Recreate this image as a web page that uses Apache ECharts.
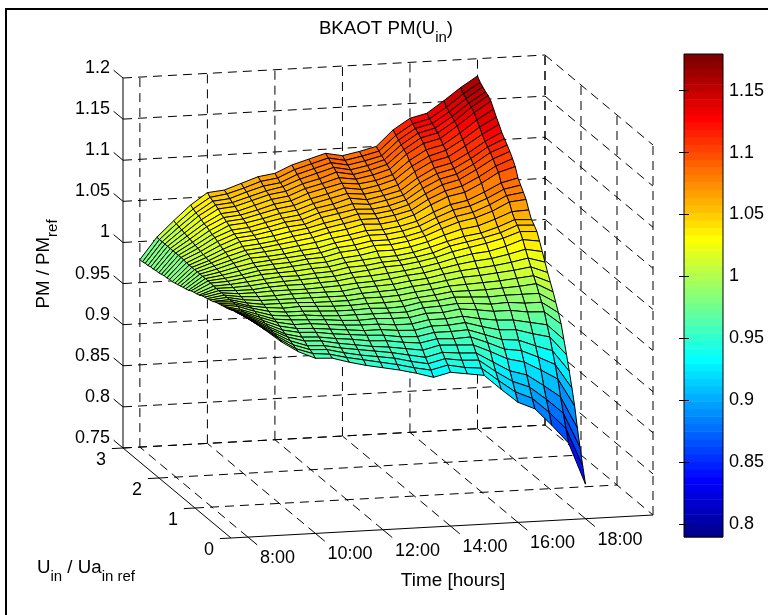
<!DOCTYPE html>
<html>
<head>
<meta charset="utf-8">
<title>BKAOT PM(Uin)</title>
<script src="https://cdn.jsdelivr.net/npm/echarts@6/dist/echarts.min.js"></script>
<style>
  body{margin:0;background:#fff;}
  #container{width:768px;height:615px;}
</style>
</head>
<body>
<div id="container"></div>
<script type="text/javascript">
// surface nodes, eye estimates: the four edges were read off the mesh, inner nodes are rougher
var uRatios = [0,0.075,0.15,0.225,0.3,0.375,0.45,0.525,0.6,0.675,0.75,0.825,0.9,0.975,1.05,1.125,1.2,1.275,1.35,1.425,1.5,1.575,1.65,1.725,1.8,1.875,1.95,2.025,2.1,2.175,2.25,2.325,2.4,2.475,2.55,2.625,2.7,2.775,2.85,2.925,3];
var timeHours = [8,8.5,9,9.5,10,10.5,11,11.5,12,12.5,13,13.5,14,14.5,15,15.5,16,16.5,17,17.5,18];
// one list per hour, values in uRatios order
var pm0800 = [1.016,1.015,1.014,1.013,1.012,1.011,1.010,1.008,1.007,1.006,1.005,1.004,1.003,1.001,1.000,0.999,0.998,0.997,0.995,0.994,0.993,0.992,0.990,0.989,0.988,0.987,0.986,0.985,0.984,0.984,0.983,0.983,0.982,0.981,0.981,0.980,0.980,0.979,0.979,0.978,0.978];
var pm0830 = [1.001,1.001,1.001,1.001,1.001,1.001,1.001,1.001,1.001,1.001,1.002,1.002,1.002,1.002,1.002,1.002,1.002,1.002,1.002,1.002,1.003,1.003,1.003,1.003,1.003,1.003,1.003,1.003,1.003,1.003,1.004,1.004,1.004,1.004,1.004,1.004,1.004,1.004,1.004,1.004,1.004];
var pm0900 = [0.985,0.986,0.987,0.988,0.989,0.990,0.991,0.992,0.993,0.994,0.995,0.996,0.996,0.997,0.998,0.999,1.000,1.001,1.002,1.003,1.004,1.005,1.006,1.007,1.008,1.009,1.010,1.010,1.011,1.012,1.013,1.014,1.015,1.016,1.017,1.018,1.019,1.020,1.021,1.022,1.023];
var pm0930 = [0.972,0.973,0.975,0.977,0.979,0.980,0.982,0.984,0.986,0.987,0.989,0.991,0.993,0.994,0.996,0.998,1.000,1.001,1.003,1.005,1.007,1.008,1.010,1.012,1.014,1.015,1.017,1.019,1.020,1.022,1.024,1.026,1.027,1.029,1.031,1.032,1.034,1.036,1.037,1.039,1.041];
var pm1000 = [0.963,0.966,0.968,0.970,0.973,0.975,0.978,0.980,0.982,0.985,0.987,0.989,0.991,0.994,0.996,0.998,1.001,1.003,1.005,1.007,1.010,1.012,1.014,1.016,1.019,1.021,1.023,1.025,1.028,1.030,1.032,1.034,1.037,1.039,1.041,1.043,1.046,1.048,1.050,1.052,1.055];
var pm1030 = [0.962,0.964,0.967,0.969,0.972,0.974,0.977,0.979,0.982,0.984,0.987,0.989,0.992,0.994,0.996,0.999,1.001,1.004,1.006,1.009,1.011,1.013,1.016,1.018,1.020,1.023,1.025,1.027,1.030,1.032,1.034,1.036,1.039,1.041,1.043,1.045,1.048,1.050,1.052,1.055,1.057];
var pm1100 = [0.956,0.959,0.962,0.965,0.968,0.971,0.974,0.977,0.980,0.983,0.985,0.988,0.991,0.993,0.996,0.999,1.001,1.004,1.007,1.009,1.012,1.015,1.017,1.020,1.022,1.025,1.028,1.030,1.033,1.036,1.038,1.041,1.043,1.046,1.048,1.051,1.054,1.056,1.059,1.061,1.064];
var pm1130 = [0.951,0.955,0.958,0.962,0.965,0.969,0.972,0.975,0.978,0.981,0.984,0.987,0.990,0.993,0.996,0.999,1.002,1.005,1.008,1.011,1.014,1.017,1.020,1.022,1.025,1.028,1.031,1.034,1.037,1.040,1.043,1.045,1.048,1.051,1.054,1.057,1.060,1.062,1.065,1.068,1.071];
var pm1200 = [0.947,0.951,0.955,0.959,0.962,0.966,0.970,0.973,0.977,0.980,0.984,0.987,0.990,0.993,0.996,0.999,1.003,1.006,1.009,1.012,1.015,1.018,1.021,1.024,1.027,1.031,1.034,1.037,1.040,1.042,1.045,1.048,1.051,1.054,1.057,1.060,1.063,1.066,1.068,1.071,1.074];
var pm1230 = [0.943,0.947,0.952,0.956,0.960,0.965,0.969,0.973,0.977,0.981,0.984,0.988,0.991,0.995,0.998,1.002,1.005,1.009,1.012,1.016,1.019,1.022,1.026,1.029,1.032,1.035,1.039,1.042,1.045,1.049,1.052,1.055,1.058,1.061,1.065,1.068,1.071,1.074,1.077,1.080,1.083];
var pm1300 = [0.938,0.942,0.947,0.952,0.957,0.962,0.966,0.971,0.975,0.980,0.984,0.987,0.991,0.995,0.999,1.003,1.006,1.010,1.014,1.017,1.021,1.024,1.028,1.031,1.035,1.038,1.042,1.046,1.049,1.053,1.056,1.059,1.063,1.066,1.070,1.073,1.076,1.080,1.083,1.086,1.089];
var pm1330 = [0.932,0.938,0.943,0.948,0.954,0.960,0.965,0.970,0.975,0.980,0.984,0.988,0.992,0.996,1.000,1.004,1.008,1.012,1.017,1.020,1.023,1.028,1.032,1.035,1.039,1.042,1.047,1.050,1.054,1.057,1.061,1.065,1.068,1.072,1.075,1.079,1.083,1.086,1.089,1.092,1.095];
var pm1400 = [0.937,0.943,0.948,0.953,0.959,0.964,0.969,0.974,0.979,0.984,0.988,0.992,0.995,0.999,1.003,1.007,1.011,1.014,1.018,1.021,1.024,1.028,1.032,1.035,1.039,1.042,1.046,1.050,1.053,1.056,1.059,1.062,1.066,1.069,1.073,1.076,1.079,1.082,1.085,1.088,1.091];
var pm1430 = [0.934,0.939,0.945,0.951,0.958,0.963,0.969,0.974,0.979,0.984,0.989,0.993,0.997,1.001,1.005,1.009,1.013,1.017,1.021,1.024,1.027,1.031,1.035,1.038,1.042,1.045,1.049,1.053,1.056,1.059,1.063,1.066,1.069,1.073,1.076,1.080,1.083,1.086,1.089,1.092,1.095];
var pm1500 = [0.931,0.937,0.944,0.950,0.957,0.964,0.970,0.976,0.981,0.987,0.991,0.996,1.000,1.004,1.008,1.013,1.017,1.021,1.025,1.028,1.032,1.036,1.040,1.043,1.047,1.050,1.055,1.058,1.062,1.065,1.068,1.071,1.075,1.079,1.082,1.086,1.089,1.092,1.094,1.097,1.100];
var pm1530 = [0.913,0.921,0.929,0.938,0.948,0.956,0.963,0.970,0.977,0.985,0.990,0.995,1.000,1.005,1.011,1.016,1.021,1.026,1.031,1.035,1.038,1.043,1.048,1.052,1.056,1.060,1.066,1.070,1.074,1.078,1.082,1.085,1.090,1.094,1.098,1.103,1.106,1.109,1.112,1.115,1.119];
var pm1600 = [0.896,0.906,0.916,0.926,0.938,0.947,0.956,0.965,0.974,0.982,0.988,0.994,1.000,1.006,1.012,1.018,1.024,1.030,1.035,1.039,1.043,1.049,1.055,1.059,1.064,1.068,1.075,1.079,1.084,1.088,1.092,1.096,1.101,1.105,1.110,1.115,1.119,1.122,1.125,1.128,1.132];
var pm1630 = [0.887,0.897,0.908,0.920,0.933,0.944,0.954,0.964,0.973,0.982,0.989,0.995,1.001,1.007,1.014,1.020,1.026,1.032,1.039,1.043,1.046,1.052,1.059,1.063,1.068,1.072,1.079,1.084,1.089,1.093,1.097,1.101,1.106,1.111,1.115,1.120,1.124,1.127,1.130,1.133,1.137];
var pm1700 = [0.866,0.879,0.892,0.906,0.922,0.935,0.946,0.958,0.969,0.979,0.987,0.995,1.002,1.009,1.016,1.023,1.030,1.037,1.044,1.048,1.052,1.059,1.066,1.071,1.076,1.081,1.089,1.094,1.100,1.104,1.108,1.112,1.118,1.123,1.128,1.134,1.137,1.140,1.143,1.146,1.151];
var pm1730 = [0.843,0.858,0.874,0.891,0.910,0.925,0.939,0.953,0.965,0.978,0.987,0.995,1.004,1.011,1.019,1.027,1.035,1.044,1.051,1.056,1.060,1.067,1.076,1.081,1.086,1.091,1.101,1.106,1.112,1.117,1.121,1.125,1.131,1.137,1.143,1.149,1.153,1.155,1.158,1.161,1.166];
var pm1800 = [0.792,0.811,0.831,0.852,0.876,0.895,0.913,0.930,0.946,0.962,0.973,0.983,0.993,1.002,1.011,1.021,1.031,1.041,1.050,1.055,1.059,1.068,1.078,1.084,1.090,1.096,1.107,1.114,1.120,1.125,1.130,1.135,1.142,1.148,1.155,1.162,1.166,1.168,1.171,1.174,1.179];
var pmColumns = [pm0800,pm0830,pm0900,pm0930,pm1000,pm1030,pm1100,pm1130,pm1200,pm1230,pm1300,pm1330,pm1400,pm1430,pm1500,pm1530,pm1600,pm1630,pm1700,pm1730,pm1800];

// axis limits and ticks
var timeRange = [7.5,20];
var uRange = [0,3];
var pmRange = [0.75,1.2];
var timeTicks = [8,10,12,14,16,18];
var timeTickLabels = ['8:00','10:00','12:00','14:00','16:00','18:00'];
var uTicks = [0,1,2,3];
var pmTicks = [0.75,0.8,0.85,0.9,0.95,1,1.05,1.1,1.15,1.2];
var pmTickLabels = ['0.75','0.8','0.85','0.9','0.95','1','1.05','1.1','1.15','1.2'];
var colorRange = [0.7895,1.1796];
var colorbarTicks = [0.8,0.85,0.9,0.95,1,1.05,1.1,1.15];

var fontName = '"Liberation Sans",Arial,sans-serif';

// matlab view(), orthographic: hours, ratio and pm go to the flat helper axes
function project(t,u,pm){
  return [231 + 33.76*(t-timeRange[0]) - 36*u,
          538 - 1.84*(t-timeRange[0]) - 30*u - 822.2*(pm-pmRange[0])];
}

// jet(64)
function clamp01(v){ return Math.max(0,Math.min(1,v)); }
function jet(i){
  var r = clamp01(Math.min((i-23)/16, 1-(i-55)/16));
  var g = clamp01(Math.min((i-7)/16, 1-(i-39)/16));
  var b = clamp01(Math.min(0.5625+i/16, 1-(i-23)/16));
  return 'rgb('+Math.round(r*255)+','+Math.round(g*255)+','+Math.round(b*255)+')';
}
function colorOf(pm){
  var i = Math.floor((pm-colorRange[0])/(colorRange[1]-colorRange[0])*64);
  return jet(Math.max(0,Math.min(63,i)));
}

// far cells first so that the near ones paint over them
var cells = [];
for(var iu=uRatios.length-2;iu>=0;iu--){
  for(var it=timeHours.length-2;it>=0;it--){
    cells.push([it,iu]);
  }
}

// walls and floor: t1,u1,pm1,t2,u2,pm2,solid
var segments = [];
var tMin=timeRange[0],tMax=timeRange[1],uMin=uRange[0],uMax=uRange[1],zMin=pmRange[0],zMax=pmRange[1];
pmTicks.forEach(function(z){
  segments.push([tMin,uMax,z,tMax,uMax,z,0]);
  segments.push([tMax,uMax,z,tMax,uMin,z,0]);
  segments.push([tMin,uMax,z,tMin,uMax+0.26,z,1]);
});
timeTicks.forEach(function(t){
  segments.push([t,uMax,zMin,t,uMax,zMax,0]);
  segments.push([t,uMin,zMin,t,uMax,zMin,0]);
  segments.push([t,uMin,zMin,t,uMin-0.26,zMin,1]);
});
uTicks.forEach(function(u){
  segments.push([tMax,u,zMin,tMax,u,zMax,0]);
  segments.push([tMin,u,zMin,tMax,u,zMin,u==uMin?1:0]);
  segments.push([tMin,u,zMin,tMin-0.33,u,zMin,1]);
});
segments.push([tMin,uMin,zMin,tMin,uMax,zMin,1]);
segments.push([tMin,uMax,zMin,tMin,uMax,zMax,1]);
segments.push([tMax,uMax,zMin,tMax,uMax,zMax,0]);

// tick labels: [t,u,pm,text,dx,dy,align]
var tickTexts = [];
pmTicks.forEach(function(z,i){ tickTexts.push([tMin,uMax,z,pmTickLabels[i],-13,-10,'right']); });
uTicks.forEach(function(u){ tickTexts.push([tMin,u,zMin,String(u),-22,12,'center']); });
timeTicks.forEach(function(t,i){ tickTexts.push([t,uMin,zMin,timeTickLabels[i],12,21,'left']); });

var bandIndex = [];
for(var b=0;b<64;b++){ bandIndex.push(b); }

function renderCell(params,api){
  var c = cells[params.dataIndex], it = c[0], iu = c[1];
  var pts = [[it,iu],[it+1,iu],[it+1,iu+1],[it,iu+1]].map(function(n){
    return api.coord(project(timeHours[n[0]],uRatios[n[1]],pmColumns[n[0]][n[1]]));
  });
  return {type:'polygon',shape:{points:pts},
    style:{fill:colorOf(pmColumns[it][iu]),stroke:'#000',lineWidth:1}};
}
function renderSegment(params,api){
  var s = segments[params.dataIndex];
  var a = api.coord(project(s[0],s[1],s[2])), e = api.coord(project(s[3],s[4],s[5]));
  return {type:'line',shape:{x1:a[0],y1:a[1],x2:e[0],y2:e[1]},
    style:{stroke:'#000',lineWidth:1,lineDash:s[6]?null:[9,6]}};
}
function renderTickText(params,api){
  var s = tickTexts[params.dataIndex];
  var p = api.coord(project(s[0],s[1],s[2]));
  return {type:'text',style:{x:p[0]+s[4],y:p[1]+s[5],text:s[3],fill:'#000',
    font:'18px '+fontName,align:s[6],verticalAlign:'middle'}};
}
function renderBand(params,api){
  var i = params.dataIndex, step = (colorRange[1]-colorRange[0])/64;
  var a = api.coord([0,colorRange[0]+step*(i+1)]), e = api.coord([1,colorRange[0]+step*i]);
  return {type:'rect',shape:{x:a[0],y:a[1],width:e[0]-a[0],height:e[1]-a[1]+0.5},style:{fill:jet(i)}};
}
function renderBarFrame(params,api){
  var a = api.coord([0,colorRange[1]]), e = api.coord([1,colorRange[0]]);
  return {type:'rect',shape:{x:a[0],y:a[1],width:e[0]-a[0],height:e[1]-a[1]},
    style:{fill:'none',stroke:'#000',lineWidth:1}};
}

var rich = {
  b:{fontSize:18.7,fontFamily:fontName,fill:'#000',lineHeight:26,verticalAlign:'top'},
  s:{fontSize:15,fontFamily:fontName,fill:'#000',lineHeight:26,verticalAlign:'bottom'}
};

var option = {
  animation:false,
  backgroundColor:'#fff',
  grid:[
    {left:0,top:0,width:768,height:615},
    {left:684,top:54,width:39,height:483}
  ],
  xAxis:[
    {gridIndex:0,type:'value',min:0,max:768,show:false},
    {gridIndex:1,type:'value',min:0,max:1,show:false}
  ],
  yAxis:[
    {gridIndex:0,type:'value',min:0,max:615,inverse:true,show:false},
    {gridIndex:1,type:'value',min:colorRange[0],max:colorRange[1],position:'right',z:10,
      splitLine:{show:false},axisLine:{show:false},
      axisTick:{inside:true,length:5,lineStyle:{color:'#000'},customValues:colorbarTicks},
      axisLabel:{margin:6,color:'#000',fontSize:18,fontFamily:fontName,customValues:colorbarTicks,
        formatter:function(v){ return String(+v.toFixed(2)); }}},
    {gridIndex:1,type:'value',min:colorRange[0],max:colorRange[1],position:'left',z:10,
      splitLine:{show:false},axisLine:{show:false},axisLabel:{show:false},
      axisTick:{inside:true,length:5,lineStyle:{color:'#000'},customValues:colorbarTicks}}
  ],
  series:[
    {type:'custom',xAxisIndex:0,yAxisIndex:0,clip:false,silent:true,z:2,renderItem:renderSegment,
      data:segments.map(function(s,i){ return [i]; })},
    {type:'custom',xAxisIndex:0,yAxisIndex:0,clip:false,silent:true,z:3,progressive:0,renderItem:renderCell,
      data:cells},
    {type:'custom',xAxisIndex:0,yAxisIndex:0,clip:false,silent:true,z:4,renderItem:renderTickText,
      data:tickTexts.map(function(s,i){ return [i]; })},
    {type:'custom',xAxisIndex:1,yAxisIndex:1,silent:true,z:2,progressive:0,renderItem:renderBand,
      data:bandIndex},
    {type:'custom',xAxisIndex:1,yAxisIndex:1,clip:false,silent:true,z:3,renderItem:renderBarFrame,
      data:[[0]]}
  ],
  graphic:[
    {type:'rect',shape:{x:6,y:9,width:770,height:620},style:{fill:'none',stroke:'#000',lineWidth:2},z:1},
    {type:'text',x:386,y:32,z:5,style:{text:'{b|BKAOT PM(U}{s|in}{b|)}',rich:rich,align:'center',verticalAlign:'middle'}},
    {type:'text',x:47,y:264,z:5,rotation:Math.PI/2,style:{text:'{b|PM / PM}{s|ref}',rich:rich,align:'center',verticalAlign:'middle'}},
    {type:'text',x:86,y:571,z:5,style:{text:'{b|U}{s|in}{b| / Ua}{s|in ref}',rich:rich,align:'center',verticalAlign:'middle'}},
    {type:'text',x:453,y:581,z:5,style:{text:'Time [hours]',fill:'#000',font:'18.9px '+fontName,align:'center',verticalAlign:'middle'}}
  ]
};
var myChart = echarts.init(document.getElementById('container'));
myChart.setOption(option);
</script>
</body>
</html>
